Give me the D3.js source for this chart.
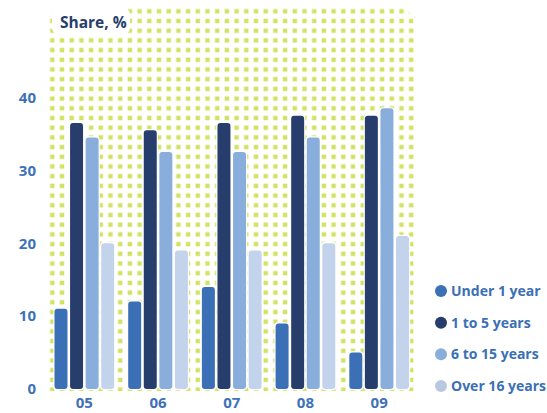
<!DOCTYPE html>
<html>
<head>
<meta charset="utf-8">
<script src="https://cdn.jsdelivr.net/npm/d3@7/dist/d3.min.js"></script>
<style>
  html, body { margin: 0; padding: 0; background: #fff; }
  svg { display: block; font-family: "Open Sans", "Noto Sans", sans-serif; }
</style>
</head>
<body>
<svg id="chart" width="547" height="413"></svg>
<script>
// Data: share of fleet by age group, per year
const years = ["05", "06", "07", "08", "09"];
const seriesNames = ["Under 1 year", "1 to 5 years", "6 to 15 years", "Over 16 years"];
const under1 = [11, 12, 14, 9, 5];
const oneTo5 = [36.5, 35.5, 36.5, 37.5, 37.5];
const sixTo15 = [34.5, 32.5, 32.5, 34.5, 38.5];
const over16 = [20, 19, 19, 20, 21];
const yTicks = [0, 10, 20, 30, 40];
const colors = ["#3b6fb6", "#273d6b", "#8aaedc", "#c4d3ec"];
const legendColors = ["#3b6fb6", "#273d6b", "#8aaedc", "#b9c7e0"];

const seriesValues = [under1, oneTo5, sixTo15, over16];

const svg = d3.select("#chart");

// Panel bounds
const panel = { x0: 48, x1: 414, y0: 7, y1: 391, r: 20 };

const x0 = d3.scaleBand().domain(years).range([47.5, 416]).paddingInner(0.19).paddingOuter(0.095);
const x1 = d3.scaleBand().domain(d3.range(seriesNames.length)).range([0, x0.bandwidth()]).paddingInner(0.167);
const y = d3.scaleLinear().domain([0, 40]).range([389, 97.4]);

// Dotted background texture
const defs = svg.append("defs");
const pat = defs.append("pattern")
  .attr("id", "dots")
  .attr("patternUnits", "userSpaceOnUse")
  .attr("x", 47.5).attr("y", 6.5)
  .attr("width", 9.7).attr("height", 9.7);
pat.append("rect").attr("width", 9.7).attr("height", 9.7).attr("fill", "#ffffff");
pat.append("rect").attr("x", 2.6).attr("y", 2.6).attr("width", 4.4).attr("height", 4.4).attr("fill", "#d2e262");

defs.append("filter").attr("id", "soft")
  .append("feGaussianBlur").attr("stdDeviation", 0.5);

const p = panel;
const panelPath = `M${p.x0},${p.y1} L${p.x0},${p.y0 + p.r} Q${p.x0},${p.y0} ${p.x0 + p.r},${p.y0}
  L${p.x1 - p.r},${p.y0} Q${p.x1},${p.y0} ${p.x1},${p.y0 + p.r} L${p.x1},${p.y1} Z`;
svg.append("path").attr("d", panelPath).attr("fill", "url(#dots)").attr("filter", "url(#soft)");

// Title box
svg.append("rect").attr("x", 52).attr("y", 8).attr("width", 78).attr("height", 26)
  .attr("rx", 6).attr("fill", "#ffffff");
svg.append("text").attr("x", 60).attr("y", 28)
  .attr("font-size", 15.5).attr("font-weight", 700).attr("fill", "#273d6b")
  .text("Share, %");

// Bars
const groups = svg.append("g").selectAll("g")
  .data(years)
  .join("g")
  .attr("transform", d => `translate(${x0(d)},0)`);

groups.each(function(yr, gi) {
  const g = d3.select(this);
  seriesValues.forEach((vals, si) => {
    const v = vals[gi];
    const bx = x1(si), bw = x1.bandwidth();
    const top = y(v), bot = y(0);
    // white outline
    g.append("rect")
      .attr("x", bx - 1.2).attr("y", top - 1.2)
      .attr("width", bw + 2.4).attr("height", bot - top + 2.4)
      .attr("rx", 4).attr("fill", "#ffffff");
    g.append("rect")
      .attr("x", bx).attr("y", top)
      .attr("width", bw).attr("height", bot - top)
      .attr("rx", 3).attr("fill", colors[si]);
  });
});

// Y axis labels
const yAxis = d3.axisLeft(y).tickValues(yTicks).tickSize(0).tickPadding(0);
const gy = svg.append("g").attr("transform", "translate(36,0)").call(yAxis);
gy.select(".domain").remove();
gy.selectAll("text")
  .attr("font-family", "'Open Sans', 'Noto Sans', sans-serif")
  .attr("font-size", 15).attr("font-weight", 700).attr("fill", "#3e72b8");

// X axis labels
const xAxis = d3.axisBottom(x0).tickSize(0).tickPadding(0);
const gx = svg.append("g").attr("transform", "translate(0,397)").call(xAxis);
gx.select(".domain").remove();
gx.selectAll("text")
  .attr("font-family", "'Open Sans', 'Noto Sans', sans-serif")
  .attr("font-size", 15).attr("font-weight", 700).attr("fill", "#3e72b8");

// Legend
const legendY = d3.scalePoint().domain(seriesNames).range([291, 386]);
const lg = svg.append("g").selectAll("g")
  .data(seriesNames)
  .join("g")
  .attr("transform", d => `translate(441,${legendY(d)})`);
lg.append("circle").attr("r", 6).attr("fill", (d, i) => legendColors[i]);
lg.append("text").attr("x", 10).attr("dy", "0.36em")
  .attr("font-size", 14).attr("font-weight", 700).attr("fill", "#3b6fb6")
  .text(d => d);
</script>
</body>
</html>
